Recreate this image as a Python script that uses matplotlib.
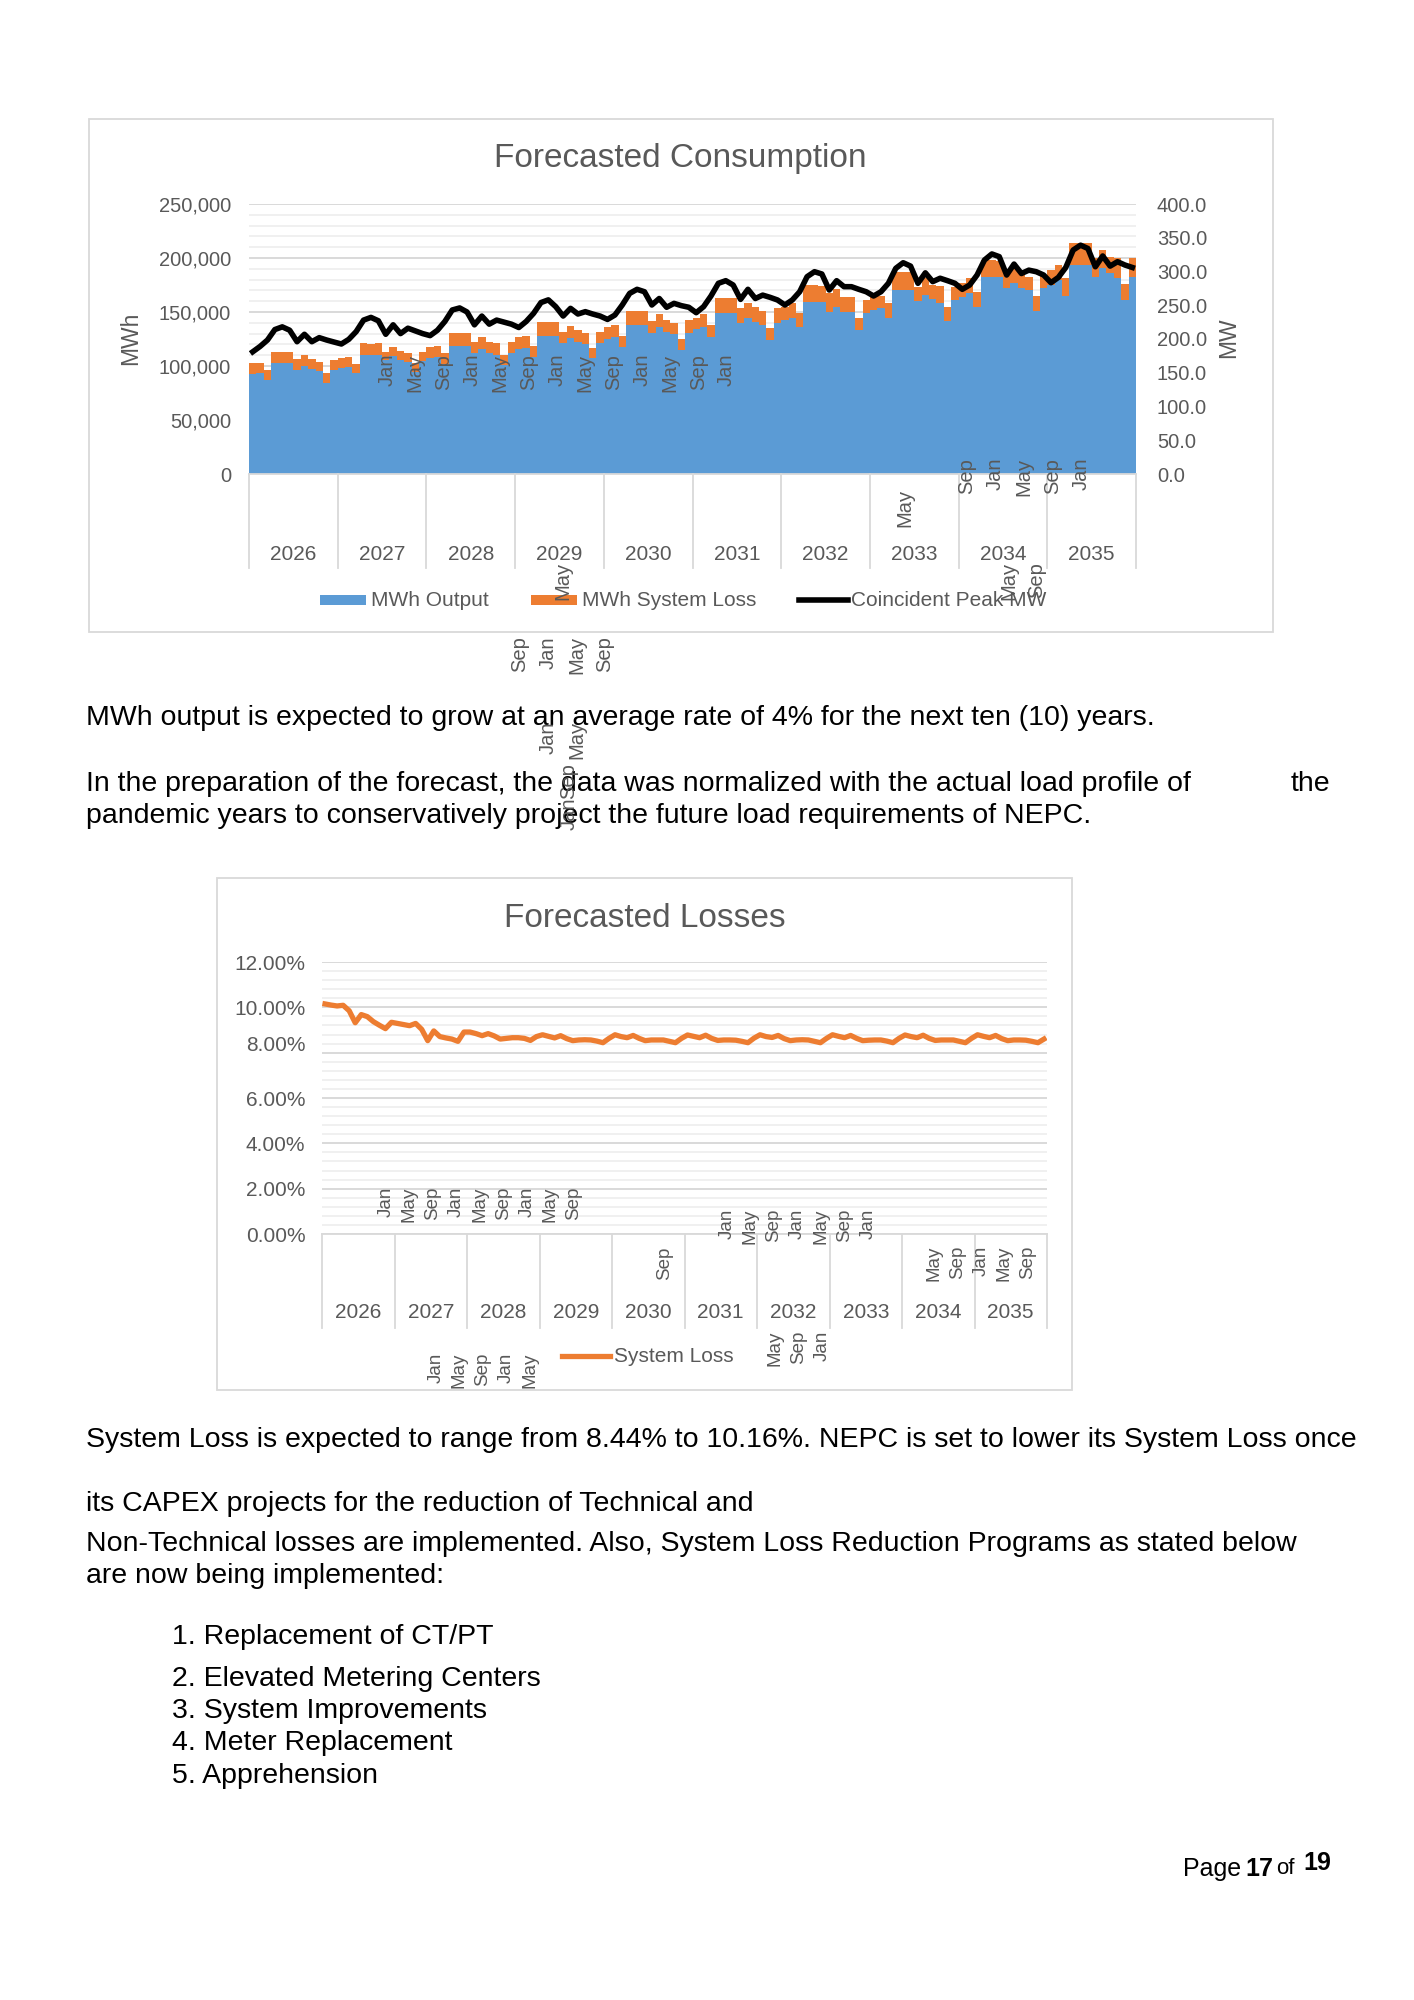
import numpy as np
import matplotlib.pyplot as plt
from matplotlib.patches import Rectangle
from matplotlib.lines import Line2D
from matplotlib.ticker import FuncFormatter, MultipleLocator, PercentFormatter
from matplotlib.transforms import ScaledTranslation

plt.rcParams['font.family'] = ['Liberation Sans', 'DejaVu Sans']

W, H = 1414, 2000
GRAY = '#595959'
GRID = '#D9D9D9'
MINOR = '#EDEDED'
BLUE = '#5B9BD5'
ORANGE = '#ED7D31'

# ---- data ----
years = [str(y) for y in range(2026, 2036)]

mwh_output = [
    92600, 93800, 87000, 102500, 102500, 102500, 96300, 100000, 96900, 95400, 84600, 96300,
    97800, 98800, 93200, 110200, 110200, 110200, 105500, 109600, 105500, 104000, 94700, 104900,
    107100, 108600, 101800, 118800, 118800, 118800, 111700, 115700, 111700, 110200, 100900, 111700,
    115400, 116300, 108600, 128100, 128100, 128100, 121000, 125600, 122500, 120400, 107100, 121000,
    125000, 127100, 117900, 137900, 137900, 137900, 130800, 136400, 131800, 129300, 114800, 130800,
    133900, 136400, 126500, 148700, 148700, 148700, 139500, 144100, 140400, 137900, 124100, 140100,
    142600, 144100, 136400, 159500, 159500, 159500, 150300, 154900, 150300, 150300, 133300, 149400,
    151800, 153400, 144700, 170300, 170300, 170300, 160500, 165700, 161700, 158600, 141600, 161100,
    163600, 167300, 154300, 182100, 182100, 182100, 171900, 176500, 171900, 170300, 151200, 171900,
    175000, 179600, 164800, 193500, 193500, 193500, 182700, 190400, 185800, 181100, 161100, 182700,
]

mwh_loss = [
    10500, 8700, 9300, 10800, 10100, 10100, 10200, 10500, 9300, 8600, 8600, 9200,
    9300, 9800, 8600, 10800, 10200, 10800, 7800, 8300, 8400, 8300, 8400, 8400,
    10800, 10200, 9900, 11400, 12000, 11400, 10800, 11400, 10800, 10800, 9300, 10800,
    11700, 11500, 10200, 12300, 12300, 12300, 10800, 11400, 10800, 10400, 9200, 10800,
    11400, 10800, 10200, 13300, 13300, 13300, 11200, 11400, 10800, 10800, 10200, 11800,
    10800, 11700, 11400, 14500, 14500, 13900, 13900, 14500, 13900, 13300, 10800, 13300,
    12300, 13900, 12300, 15500, 15500, 14900, 17000, 16000, 13900, 13300, 11400, 11700,
    11800, 11400, 13300, 17000, 17000, 16400, 12900, 15400, 13300, 15400, 13300, 12300,
    12900, 13800, 14500, 16000, 16000, 15400, 15400, 15400, 13900, 12400, 13600, 12300,
    13900, 13900, 16300, 20100, 20100, 20100, 17000, 17000, 15400, 18600, 14500, 17600,
]

peak_mw = [
    181.0, 189.0, 198.5, 214.0, 218.0, 213.0, 196.0, 207.0, 196.0, 202.0, 198.5, 195.5,
    192.6, 199.5, 211.0, 228.0, 232.0, 227.0, 207.0, 221.0, 208.0, 216.0, 212.0, 208.0,
    205.0, 213.0, 226.0, 243.0, 246.0, 240.0, 221.0, 234.0, 222.0, 228.0, 225.0, 222.0,
    217.0, 226.0, 238.0, 254.0, 258.0, 247.9, 234.0, 245.4, 237.0, 240.5, 237.0, 234.0,
    229.0, 235.5, 250.4, 267.6, 273.6, 270.0, 250.4, 260.0, 247.0, 252.8, 249.4, 247.0,
    239.0, 247.9, 263.7, 282.5, 286.4, 280.0, 258.7, 273.6, 260.0, 265.0, 261.7, 257.8,
    250.4, 257.8, 270.0, 292.3, 299.7, 296.3, 272.6, 286.4, 277.5, 277.5, 273.6, 270.0,
    263.7, 270.0, 282.5, 304.7, 313.0, 308.0, 282.5, 298.0, 285.0, 290.0, 286.4, 282.5,
    273.6, 280.0, 294.8, 317.0, 326.0, 322.0, 294.8, 311.0, 297.0, 302.0, 299.7, 294.8,
    283.4, 291.3, 306.0, 331.8, 339.0, 334.0, 307.0, 323.0, 308.0, 314.5, 309.6, 306.0,
]

loss_pct = [
    10.15, 10.10, 10.06, 10.09, 9.85, 9.32, 9.68, 9.59, 9.37, 9.21, 9.06, 9.34,
    9.29, 9.24, 9.19, 9.29, 9.03, 8.53, 8.96, 8.71, 8.65, 8.60, 8.50, 8.91,
    8.91, 8.84, 8.75, 8.84, 8.74, 8.60, 8.63, 8.66, 8.66, 8.63, 8.54, 8.71,
    8.79, 8.72, 8.65, 8.75, 8.62, 8.53, 8.56, 8.57, 8.56, 8.51, 8.44, 8.63,
    8.79, 8.71, 8.66, 8.76, 8.63, 8.53, 8.56, 8.56, 8.56, 8.50, 8.44, 8.63,
    8.78, 8.72, 8.66, 8.77, 8.63, 8.54, 8.56, 8.56, 8.55, 8.50, 8.44, 8.64,
    8.79, 8.71, 8.67, 8.76, 8.62, 8.53, 8.56, 8.57, 8.56, 8.50, 8.44, 8.63,
    8.79, 8.72, 8.66, 8.76, 8.63, 8.53, 8.55, 8.56, 8.56, 8.51, 8.44, 8.63,
    8.78, 8.71, 8.66, 8.77, 8.63, 8.54, 8.56, 8.56, 8.56, 8.50, 8.44, 8.63,
    8.79, 8.72, 8.66, 8.76, 8.62, 8.53, 8.56, 8.56, 8.55, 8.50, 8.44, 8.60,
]

series_names = ['MWh Output', 'MWh System Loss', 'Coincident Peak MW']
loss_name = 'System Loss'

# stray month labels of the broken category axis (x start, step, top, labels) in page px
month_labels_1 = [
    (387, 28.3, 354, ['Jan', 'May', 'Sep'] * 4 + ['Jan']),
    (967, 28.6, 458, ['Sep', 'Jan', 'May', 'Sep', 'Jan']),
    (905, 0, 489, ['May']),
    (563, 0, 562, ['May']),
    (1009, 28, 562, ['May', 'Sep']),
    (520, 28.3, 636, ['Sep', 'Jan', 'May', 'Sep']),
    (548, 29, 721, ['Jan', 'May']),
    (569, 0, 763, ['Sep']),
    (569, 0, 798, ['Jan']),
]
month_labels_2 = [
    (386, 23.5, 1187, ['Jan', 'May', 'Sep'] * 3),
    (665, 0, 1247, ['Sep']),
    (727, 23.5, 1209, ['Jan', 'May', 'Sep', 'Jan', 'May', 'Sep', 'Jan']),
    (934, 23.5, 1246, ['May', 'Sep', 'Jan', 'May', 'Sep']),
    (436, 23.5, 1353, ['Jan', 'May', 'Sep', 'Jan', 'May']),
    (775, 23.5, 1331, ['May', 'Sep', 'Jan']),
]

fig = plt.figure(figsize=(W / 100, H / 100), dpi=100)


def fx(px):
    return px / W


def fy(py):
    return 1 - py / H


def box(x0, y0, x1, y1):
    fig.patches.append(Rectangle((fx(x0), fy(y1)), fx(x1) - fx(x0), fy(y0) - fy(y1),
                                 transform=fig.transFigure, fill=False,
                                 edgecolor=GRID, lw=1.3))


def month_text(groups, size):
    for x0, step, top, labels in groups:
        for k, lab in enumerate(labels):
            fig.text(fx(x0 + k * step), fy(top), lab, rotation=90, ha='center',
                     va='top', fontsize=size, color=GRAY)


def year_axis(ax, drop, label_y):
    n_years = len(years)
    xt = ax.get_xaxis_transform()
    for k in range(n_years + 1):
        xd = -0.5 + 12 * k
        ax.plot([xd, xd], [0, -drop], transform=xt, color=GRID, lw=1.3, clip_on=False)
    for k, yr in enumerate(years):
        ax.text(12 * k + 5.5, -label_y, yr, transform=xt, ha='center', va='center',
                fontsize=15, color=GRAY)


def style_axes(ax):
    for s in ax.spines.values():
        s.set_visible(False)
    ax.spines['bottom'].set_visible(True)
    ax.spines['bottom'].set_color(GRID)
    ax.spines['bottom'].set_linewidth(1.3)
    ax.set_xticks([])
    ax.grid(which='major', axis='y', color=GRID, lw=1.4)
    ax.grid(which='minor', axis='y', color=MINOR, lw=1.2)
    ax.set_axisbelow(True)
    ax.tick_params(axis='y', which='both', length=0, labelcolor=GRAY)


# ================= chart 1 =================
box(89, 119, 1273, 632)
fig.text(fx(680), fy(158), 'Forecasted Consumption', ha='center', va='center',
         fontsize=24, color=GRAY)

n = len(mwh_output)
x = np.arange(n)
ax = fig.add_axes([fx(249), fy(474), fx(1136) - fx(249), fy(204) - fy(474)])
ax.bar(x, mwh_output, width=1.0, color=BLUE, linewidth=0)
ax.bar(x, mwh_loss, bottom=mwh_output, width=1.0, color=ORANGE, linewidth=0)
ax.set_xlim(-0.5, n - 0.5)
ax.set_ylim(0, 250000)
ax.yaxis.set_major_locator(MultipleLocator(50000))
ax.yaxis.set_minor_locator(MultipleLocator(10000))
ax.yaxis.set_major_formatter(FuncFormatter(lambda v, p: f'{v:,.0f}'))
style_axes(ax)
ax.tick_params(axis='y', pad=13, labelsize=14.5)
year_axis(ax, (568 - 474) / 270, (555 - 474) / 270)

ax2 = ax.twinx()
ax2.plot(x, peak_mw, color='black', lw=4.0, solid_joinstyle='round')
ax2.set_ylim(0, 400)
ax2.yaxis.set_major_locator(MultipleLocator(50))
ax2.yaxis.set_major_formatter(FuncFormatter(lambda v, p: f'{v:.1f}'))
for s in ax2.spines.values():
    s.set_visible(False)
ax2.tick_params(axis='y', length=0, pad=15, labelsize=14.5, labelcolor=GRAY)

fig.text(fx(131), fy(338), 'MWh', rotation=90, ha='center', va='center',
         fontsize=16.5, color=GRAY)
fig.text(fx(1229), fy(338), 'MW', rotation=90, ha='center', va='center',
         fontsize=16.5, color=GRAY)

# legend
leg_y = 600
fig.patches.append(Rectangle((fx(320), fy(leg_y + 5)), fx(46), 10 / H,
                             transform=fig.transFigure, color=BLUE, lw=0))
fig.text(fx(371), fy(leg_y), series_names[0], va='center', fontsize=15, color=GRAY)
fig.patches.append(Rectangle((fx(531), fy(leg_y + 5)), fx(46), 10 / H,
                             transform=fig.transFigure, color=ORANGE, lw=0))
fig.text(fx(582), fy(leg_y), series_names[1], va='center', fontsize=15, color=GRAY)
fig.lines.append(Line2D([fx(799), fx(848)], [fy(leg_y), fy(leg_y)],
                        transform=fig.transFigure, color='black', lw=4.0))
fig.text(fx(851), fy(leg_y), series_names[2], va='center', fontsize=15, color=GRAY)

# ================= chart 2 =================
box(217, 878, 1072, 1390)
fig.text(fx(645), fy(918), 'Forecasted Losses', ha='center', va='center',
         fontsize=24, color=GRAY)

ax3 = fig.add_axes([fx(322), fy(1234), fx(1047) - fx(322), fy(962) - fy(1234)])
ax3.plot(np.arange(len(loss_pct)), np.array(loss_pct) / 100, color=ORANGE, lw=3.8,
         solid_joinstyle='round')
ax3.set_xlim(-0.5, len(loss_pct) - 0.5)
ax3.set_ylim(0, 0.12)
ax3.yaxis.set_major_locator(MultipleLocator(0.02))
ax3.yaxis.set_minor_locator(MultipleLocator(0.004))
ax3.yaxis.set_major_formatter(PercentFormatter(xmax=1, decimals=2))
style_axes(ax3)
ax3.tick_params(axis='y', pad=12, labelsize=15)
year_axis(ax3, (1328 - 1234) / 272, (1312 - 1234) / 272)
fig.canvas.draw()
for lbl in ax3.get_yticklabels():
    if lbl.get_text() == '8.00%':
        lbl.set_transform(lbl.get_transform() +
                          ScaledTranslation(0, 6.5 / 72, fig.dpi_scale_trans))

fig.lines.append(Line2D([fx(562), fx(610)], [fy(1356), fy(1356)],
                        transform=fig.transFigure, color=ORANGE, lw=3.8))
fig.text(fx(614), fy(1356), loss_name, va='center', fontsize=15, color=GRAY)

# ================= page text =================
body = 20.5
fig.text(fx(86), fy(718), 'MWh output is expected to grow at an average rate of 4% for the next ten (10) years.',
         va='center', fontsize=body)
fig.text(fx(86), fy(784), 'In the preparation of the forecast, the data was normalized with the actual load profile of',
         va='center', fontsize=body)
fig.text(fx(1291), fy(784), 'the', va='center', fontsize=body)
fig.text(fx(86), fy(816), 'pandemic years to conservatively project the future load requirements of NEPC.',
         va='center', fontsize=body)
fig.text(fx(86), fy(1440), 'System Loss is expected to range from 8.44% to 10.16%. NEPC is set to lower its System Loss once',
         va='center', fontsize=body)
fig.text(fx(86), fy(1504), 'its CAPEX projects for the reduction of Technical and', va='center', fontsize=body)
fig.text(fx(86), fy(1544), 'Non-Technical losses are implemented. Also, System Loss Reduction Programs as stated below',
         va='center', fontsize=body)
fig.text(fx(86), fy(1576), 'are now being implemented:', va='center', fontsize=body)

programs = ['Replacement of CT/PT', 'Elevated Metering Centers', 'System Improvements',
            'Meter Replacement', 'Apprehension']
prog_y = [1637, 1679, 1711, 1743, 1776]
for i, (p, py) in enumerate(zip(programs, prog_y)):
    fig.text(fx(172), fy(py), f'{i + 1}. {p}', va='center', fontsize=body)

fig.text(fx(1183), fy(1869), 'Page', va='center', fontsize=18)
fig.text(fx(1245), fy(1869), '17', va='center', fontsize=18, fontweight='bold')
fig.text(fx(1276), fy(1869), 'of', va='center', fontsize=16)
fig.text(fx(1303), fy(1863), '19', va='center', fontsize=18, fontweight='bold')

month_text(month_labels_1, 14.5)
month_text(month_labels_2, 13.5)

fig.savefig('out.png', dpi=100)
